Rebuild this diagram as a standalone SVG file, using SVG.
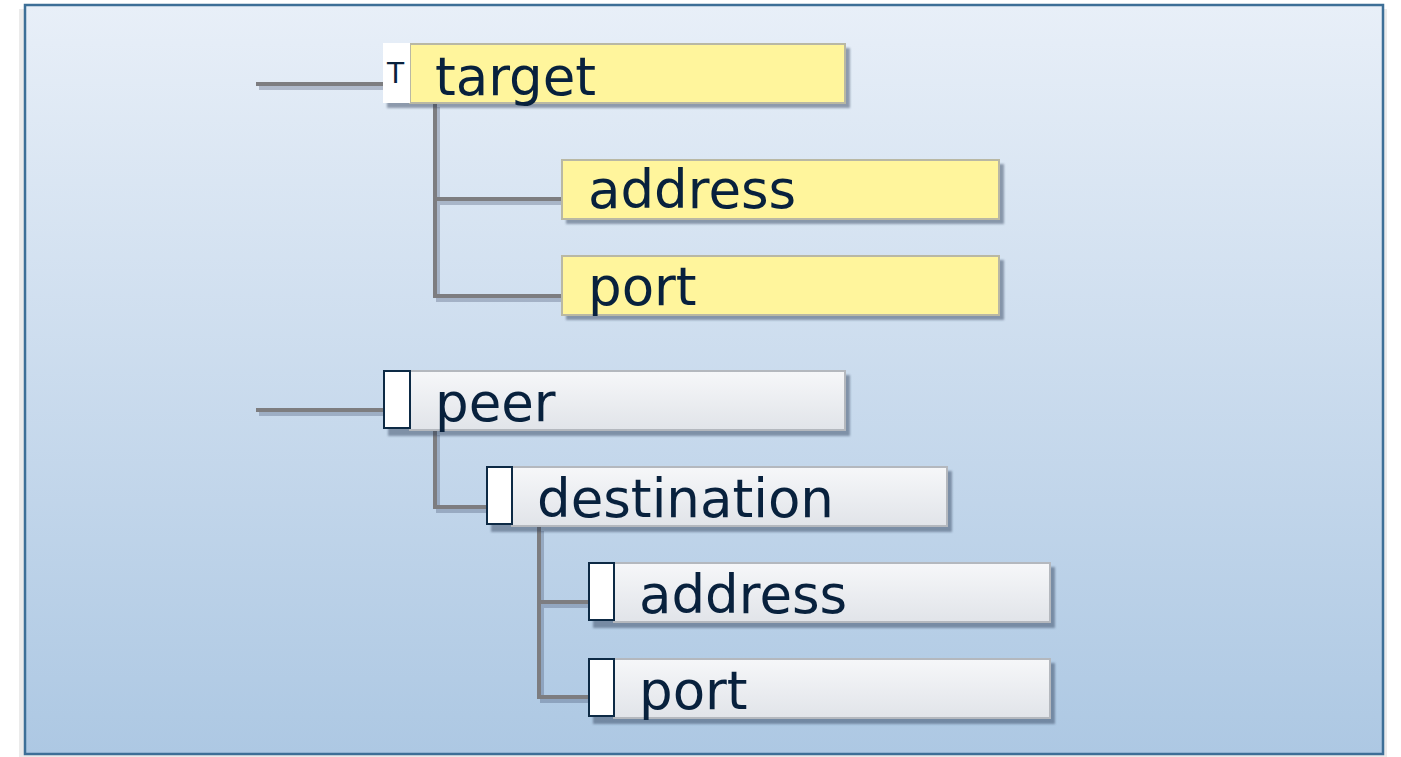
<svg xmlns="http://www.w3.org/2000/svg" width="1401" height="757" viewBox="0 0 1401 757">
<defs>
<linearGradient id="bg" x1="0" y1="0" x2="0" y2="1">
<stop offset="0" stop-color="#e8eff8"/>
<stop offset="1" stop-color="#adc8e3"/>
</linearGradient>
<linearGradient id="gray" x1="0" y1="0" x2="0" y2="1">
<stop offset="0" stop-color="#f6f7f9"/>
<stop offset="1" stop-color="#e1e4e9"/>
</linearGradient>
<filter id="sh" x="-10%" y="-20%" width="130%" height="150%">
<feGaussianBlur stdDeviation="1"/>
</filter>
</defs>
<style>
.frame{fill:url(#bg);stroke:#3d6f97;stroke-width:2.5}
.shadow{fill:#2a3a55;opacity:0.45;filter:url(#sh)}
.yel{fill:#fff59c;stroke:#b9b8a4;stroke-width:2}
.gry{fill:url(#gray);stroke:#b4b8be;stroke-width:2}
.chk{fill:#ffffff;stroke:#0d2a45;stroke-width:2}
.chk0{fill:#ffffff}
.lbl{font-family:"DejaVu Sans",Verdana,sans-serif;font-size:53px;fill:#08213d}
.tlbl{font-family:"DejaVu Sans",Verdana,sans-serif;font-size:28px;fill:#08213d}
.ln{fill:none;stroke:#7d7d80;stroke-width:4}
.lns{fill:none;stroke:#3a4a66;stroke-width:4;opacity:0.3}
</style>
<rect x="19" y="9" width="1368" height="748" fill="#d8d8d8" opacity="0.5"/>
<rect class="frame" x="25" y="5" width="1358" height="749"/>

<g id="connectors">
<g transform="translate(3,4)">
<path class="lns" d="M256 84H383"/>
<path class="lns" d="M435 103V296H562M435 199H562"/>
<path class="lns" d="M256 410H384"/>
<path class="lns" d="M435 431V507H487"/>
<path class="lns" d="M539 527V697H589M539 602H589"/>
</g>
<path class="ln" d="M256 84H383"/>
<path class="ln" d="M435 103V296H562M435 199H562"/>
<path class="ln" d="M256 410H384"/>
<path class="ln" d="M435 431V507H487"/>
<path class="ln" d="M539 527V697H589M539 602H589"/>
</g>

<g id="node-target">
<rect class="shadow" x="387" y="48" width="463" height="60"/>
<rect class="yel" x="410" y="44" width="435" height="59"/>
<rect class="chk0" x="383" y="43" width="27" height="60"/>
<text class="tlbl" x="387" y="83">T</text>
<text class="lbl" x="435" y="95">target</text>
</g>

<g id="node-target-address">
<rect class="shadow" x="566" y="164" width="438" height="60"/>
<rect class="yel" x="562" y="160" width="437" height="59"/>
<text class="lbl" x="588" y="208">address</text>
</g>

<g id="node-target-port">
<rect class="shadow" x="566" y="260" width="438" height="60"/>
<rect class="yel" x="562" y="256" width="437" height="59"/>
<text class="lbl" x="588" y="305">port</text>
</g>

<g id="node-peer">
<rect class="shadow" x="388" y="375" width="462" height="61"/>
<rect class="gry" x="410" y="371" width="435" height="59"/>
<rect class="chk" x="384" y="371" width="26" height="57"/>
<text class="lbl" x="435" y="421">peer</text>
</g>

<g id="node-destination">
<rect class="shadow" x="491" y="471" width="461" height="61"/>
<rect class="gry" x="512" y="467" width="435" height="59"/>
<rect class="chk" x="487" y="467" width="25" height="57"/>
<text class="lbl" x="537" y="517">destination</text>
</g>

<g id="node-peer-address">
<rect class="shadow" x="593" y="567" width="462" height="61"/>
<rect class="gry" x="614" y="563" width="436" height="59"/>
<rect class="chk" x="589" y="563" width="25" height="57"/>
<text class="lbl" x="639" y="613">address</text>
</g>

<g id="node-peer-port">
<rect class="shadow" x="593" y="663" width="462" height="61"/>
<rect class="gry" x="614" y="659" width="436" height="59"/>
<rect class="chk" x="589" y="659" width="25" height="57"/>
<text class="lbl" x="639" y="709">port</text>
</g>
</svg>
